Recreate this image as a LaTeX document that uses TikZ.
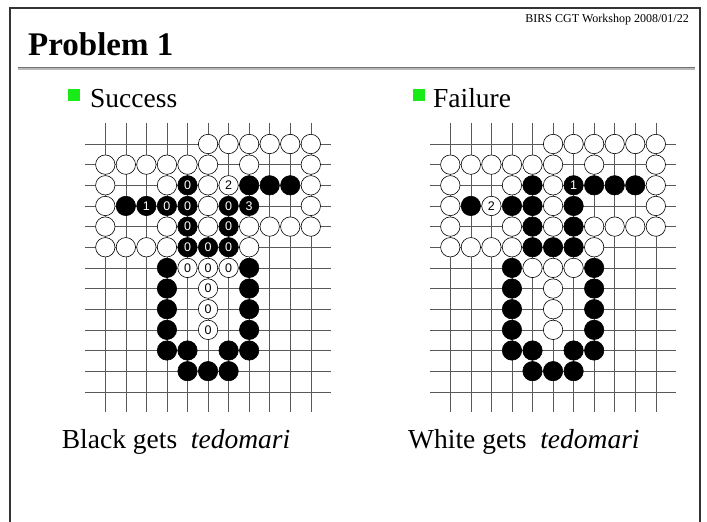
\documentclass[tikz,border=0pt]{standalone}
\usepackage{fontspec}
\setmainfont{Liberation Serif}
\newfontfamily\digitfont{Liberation Sans}
\definecolor{bulletgreen}{RGB}{25,235,25}
\begin{document}
\begin{tikzpicture}[x=1pt,y=-1pt,
  gridline/.style={line width=0.5pt, draw=black!65},
  stonebase/.style={circle, draw=black, line width=0.6pt, minimum size=19.4pt, inner sep=0pt, font=\digitfont\fontsize{12.5}{12.5}\selectfont},
  wstone/.style={stonebase, fill=white, text=black},
  bstone/.style={stonebase, fill=black, text=white},
  bigtext/.style={anchor=base west, inner sep=0pt, font=\fontsize{27.5}{27.5}\selectfont},
  bulletbox/.style={fill=bulletgreen, minimum width=11.5pt, minimum height=11.5pt, inner sep=0pt}
]
\useasboundingbox (0,0) rectangle (707,522);
% frame
\draw[line width=1.3pt, black!80] (10,540) -- (10,8) -- (700,8) -- (700,540);
% header
\node[anchor=base east, inner sep=0pt, font=\fontsize{12}{12}\selectfont] (hdr) at (689,23) {BIRS CGT Workshop 2008/01/22};
\node[anchor=base west, inner sep=0pt, font=\bfseries\fontsize{33}{33}\selectfont] (title) at (28,55) {Problem 1};
\draw[gray!55, line width=3pt] (18,68.5) -- (695,68.5);
\draw[black!55, line width=0.8pt] (18,67) -- (695,67);
% bullets
\node[bulletbox] (b1) at (74,95) {};
\node[bigtext] (succ) at (90,107) {Success};
\node[bulletbox] (b2) at (419,95) {};
\node[bigtext] (fail) at (433,107) {Failure};
% grids
\foreach \ox in {105.3,450.3} {
  \foreach \r in {0,...,12}
    \draw[gridline] ({\ox-20.55},{144+\r*20.65}) -- ({\ox+11*20.55},{144+\r*20.65});
  \foreach \c in {0,...,10}
    \draw[gridline] ({\ox+\c*20.55},{144-20.65}) -- ({\ox+\c*20.55},{144+13*20.65});
}
% common stones
\foreach \ox/\bd in {105.3/L,450.3/R} {
  \foreach \c/\r in {5/0,6/0,7/0,8/0,9/0,10/0,
      0/1,1/1,2/1,3/1,4/1,5/1,7/1,10/1,
      0/2,3/2,5/2,10/2,
      0/3,5/3,10/3,
      0/4,3/4,5/4,7/4,8/4,9/4,10/4,
      0/5,1/5,2/5,3/5,7/5}
    \node[wstone] (\bd-\c-\r) at ({\ox+\c*20.55},{144+\r*20.65}) {};
  \foreach \c/\r in {7/2,8/2,9/2,1/3,3/6,7/6,3/7,7/7,3/8,7/8,3/9,7/9,
      3/10,4/10,6/10,7/10,4/11,5/11,6/11}
    \node[bstone] (\bd-\c-\r) at ({\ox+\c*20.55},{144+\r*20.65}) {};
}
% left board (success)
\foreach \c/\r/\t in {6/2/2,4/6/0,5/6/0,6/6/0,5/7/0,5/8/0,5/9/0}
  \node[wstone] (L-\c-\r) at ({105.3+\c*20.55},{144+\r*20.65}) {\t};
\foreach \c/\r/\t in {4/2/0,2/3/1,3/3/0,4/3/0,6/3/0,7/3/3,4/4/0,6/4/0,4/5/0,5/5/0,6/5/0}
  \node[bstone] (L-\c-\r) at ({105.3+\c*20.55},{144+\r*20.65}) {\t};
% right board (failure)
\foreach \c/\r in {4/6,5/6,6/6,5/7,5/8,5/9}
  \node[wstone] (R-\c-\r) at ({450.3+\c*20.55},{144+\r*20.65}) {};
\node[wstone] (R-2-3) at ({450.3+2*20.55},{144+3*20.65}) {2};
\foreach \c/\r in {4/2,3/3,4/3,6/3,4/4,6/4,4/5,5/5,6/5}
  \node[bstone] (R-\c-\r) at ({450.3+\c*20.55},{144+\r*20.65}) {};
\node[bstone] (R-6-2) at ({450.3+6*20.55},{144+2*20.65}) {1};
% captions
\node[bigtext] (capL) at (61.7,448) {Black gets\ \ \textit{tedomari}};
\node[bigtext] (capR) at (408,448) {White gets\ \ \textit{tedomari}};
\end{tikzpicture}
\end{document}
